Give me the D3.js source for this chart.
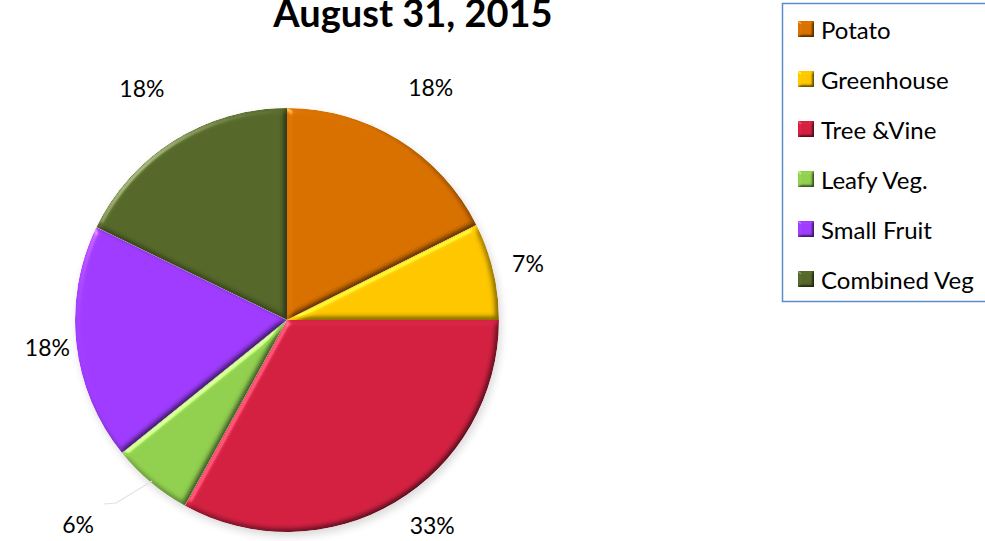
<!DOCTYPE html>
<html>
<head>
<meta charset="utf-8">
<script src="https://cdn.jsdelivr.net/npm/d3@7"></script>
<style>
  body { margin: 0; background: #fff; }
  text { font-family: Lato, "Open Sans", sans-serif; }
</style>
</head>
<body>
<div id="chart"></div>
<script>
// chart data
var categories = ["Potato", "Greenhouse", "Tree &Vine", "Leafy Veg.", "Small Fruit", "Combined Veg"];
var values = [17.6, 7.4, 33, 6.2, 18, 17.8];
var colors = ["#d97100", "#ffc700", "#d42142", "#92d050", "#a03cff", "#56682a"];
var title = "August 31, 2015";

var width = 985, height = 541;
var cx = 287, cy = 320, r = 212;

var svg = d3.select("#chart").append("svg")
  .attr("width", width)
  .attr("height", height);

// bevel filter (soft edges like office charts)
var defs = svg.append("defs");
function bevel(id, blur, scale) {
  var f = defs.append("filter").attr("id", id)
    .attr("color-interpolation-filters", "sRGB")
    .attr("x", "-10%").attr("y", "-10%").attr("width", "120%").attr("height", "120%");
  f.append("feGaussianBlur").attr("in", "SourceAlpha").attr("stdDeviation", blur).attr("result", "blur");
  var spec = f.append("feSpecularLighting").attr("in", "blur").attr("surfaceScale", scale)
    .attr("specularConstant", 0.8).attr("specularExponent", 40)
    .attr("lighting-color", "#ffffff").attr("result", "spec");
  spec.append("feDistantLight").attr("azimuth", 225).attr("elevation", 30);
  f.append("feComposite").attr("in", "spec").attr("in2", "SourceAlpha").attr("operator", "in").attr("result", "specOut");
  var diff = f.append("feDiffuseLighting").attr("in", "blur").attr("surfaceScale", scale)
    .attr("diffuseConstant", 1.155).attr("lighting-color", "#ffffff").attr("result", "diff");
  diff.append("feDistantLight").attr("azimuth", 225).attr("elevation", 60);
  f.append("feComposite").attr("in", "SourceGraphic").attr("in2", "diff").attr("operator", "arithmetic")
    .attr("k1", 1).attr("k2", 0).attr("k3", 0).attr("k4", 0).attr("result", "lit");
  f.append("feComposite").attr("in", "lit").attr("in2", "SourceAlpha").attr("operator", "in").attr("result", "litIn");
  f.append("feComposite").attr("in", "litIn").attr("in2", "specOut").attr("operator", "arithmetic")
    .attr("k1", 0).attr("k2", 1).attr("k3", 0.4).attr("k4", 0);
}
bevel("bevel", 3, 3);
bevel("bevelSmall", 1.5, 2);

var shadow = defs.append("filter").attr("id", "shadow")
  .attr("x", "-20%").attr("y", "-20%").attr("width", "140%").attr("height", "140%");
shadow.append("feGaussianBlur").attr("stdDeviation", 4);

var color = d3.scaleOrdinal().domain(categories).range(colors);

var data = categories.map(function(c, i) { return {name: c, value: values[i]}; });
var total = d3.sum(values);

var pie = d3.pie().sort(null).value(function(d) { return d.value; });
var arc = d3.arc().innerRadius(0).outerRadius(r);
var arcs = pie(data);

var g = svg.append("g").attr("transform", "translate(" + cx + "," + cy + ")");

// soft shadow under the pie
g.append("circle")
  .attr("cx", 2).attr("cy", 4).attr("r", r)
  .style("fill", "#000").style("opacity", 0.15)
  .attr("filter", "url(#shadow)");

g.selectAll("path.slice")
  .data(arcs)
  .enter()
  .append("path")
    .attr("class", "slice")
    .attr("d", arc)
    .style("fill", function(d) { return color(d.data.name); })
    .attr("filter", "url(#bevel)");

// labels outside end
var fmt = function(v) { return Math.round(v / total * 100) + "%"; };
arcs.forEach(function(d) {
  var mid = (d.startAngle + d.endAngle) / 2;
  var a = mid;
  var frac = (d.endAngle - d.startAngle) / (2 * Math.PI);
  var small = frac < 0.065;
  if (small) a += 0.1;
  var s = Math.sin(a), c = Math.cos(a);
  var R = r + 26 + 42 * Math.max(0, c);
  var x = R * s + 28 * Math.max(0, -c) * Math.sign(s), y = -R * c;
  if (small) {
    R = r + 80;
    x = R * s; y = -R * c;
    // leader line for the small slice
    var p0 = [ (r - 2) * Math.sin(mid), -(r - 2) * Math.cos(mid) ];
    var p1 = [x + 38, y - 21];
    var p2 = [x + 26, y - 20];
    g.append("polyline")
      .attr("points", [p0, p1, p2].map(function(p) { return p.join(","); }).join(" "))
      .style("fill", "none").style("stroke", "#e2e2e2").style("stroke-width", 1.2);
  }
  g.append("text")
    .attr("x", x).attr("y", y)
    .attr("text-anchor", "middle")
    .attr("dominant-baseline", "central")
    .style("font-size", "23px")
    .style("fill", "#000")
    .text(fmt(d.data.value));
});

// title
svg.append("text")
  .attr("x", 413).attr("y", 27)
  .attr("text-anchor", "middle")
  .style("font-size", "38px")
  .style("font-weight", "bold")
  .text(title);

// legend
var legend = svg.append("g").attr("transform", "translate(782.5,3.5)");
legend.append("rect")
  .attr("width", 230).attr("height", 298)
  .style("fill", "#fff").style("stroke", "#5b8ccc").style("stroke-width", 1.5);

categories.forEach(function(cat, i) {
  legend.append("rect")
    .attr("x", 15.5).attr("y", 17.5 + i * 50)
    .attr("width", 16).attr("height", 16)
    .style("fill", color(cat))
    .attr("filter", "url(#bevelSmall)");
  legend.append("text")
    .attr("x", 38.5).attr("y", 25.5 + i * 50)
    .attr("dominant-baseline", "central")
    .style("font-size", "24px")
    .text(cat);
});
</script>
</body>
</html>
